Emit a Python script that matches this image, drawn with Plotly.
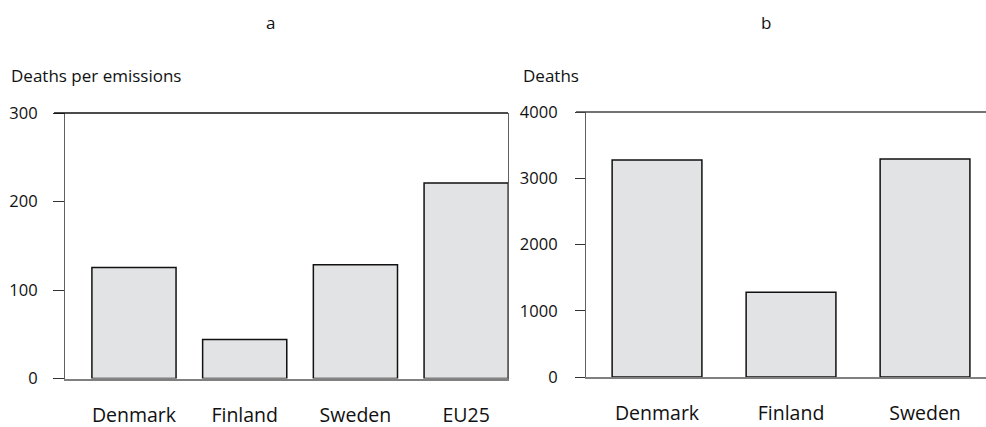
import plotly.graph_objects as go

# Panel a: deaths per emissions
countries_a = ["Denmark", "Finland", "Sweden", "EU25"]
deaths_per_emissions = [125.5, 44, 128.5, 221]

# Panel b: deaths
countries_b = ["Denmark", "Finland", "Sweden"]
deaths = [3275, 1278, 3290]

W, H = 986, 427
FONT = "Open Sans"
BAR_FILL = "#e2e3e5"
INK = "#111111"

fig = go.Figure()
fig.add_trace(go.Bar(
    x=countries_a, y=deaths_per_emissions, width=0.76,
    marker=dict(color=BAR_FILL, line=dict(color=INK, width=1.5)),
    xaxis="x", yaxis="y", hoverinfo="x+y",
))
fig.add_trace(go.Bar(
    x=countries_b, y=deaths, width=0.67,
    marker=dict(color=BAR_FILL, line=dict(color=INK, width=1.5)),
    xaxis="x2", yaxis="y2", hoverinfo="x+y",
))

ytick_font = dict(family=FONT, size=16.5, color=INK)
xtick_font = dict(family=FONT, size=19.5, color=INK)
label_font = dict(family=FONT, size=17, color=INK)

fig.update_layout(
    width=W, height=H,
    margin=dict(l=0, r=0, t=0, b=0, autoexpand=False),
    paper_bgcolor="white", plot_bgcolor="white",
    showlegend=False,
    font=dict(family=FONT, color=INK),
    xaxis=dict(
        domain=[65 / W, 508 / W], range=[-0.623, 3.378],
        showline=True, linecolor="#808080", linewidth=1.5,
        showgrid=False, ticks="", tickfont=xtick_font,
        ticklabelstandoff=18, fixedrange=True, automargin=False,
    ),
    yaxis=dict(
        domain=[1 - 378.5 / H, 1 - 113 / H], range=[0, 300],
        tickvals=[0, 100, 200, 300],
        showline=True, linecolor="#606060", linewidth=1.2, mirror=True,
        ticks="outside", ticklen=11, tickcolor="#333333", tickwidth=1.2,
        showgrid=False, zeroline=False, tickfont=ytick_font,
        ticklabelstandoff=12, fixedrange=True, automargin=False,
    ),
    xaxis2=dict(
        domain=[586 / W, 1.0], range=[-0.53, 2.455],
        showline=True, linecolor="#808080", linewidth=1.5,
        showgrid=False, ticks="", tickfont=xtick_font,
        ticklabelstandoff=18, fixedrange=True, anchor="y2", automargin=False,
    ),
    yaxis2=dict(
        domain=[1 - 377 / H, 1 - 112 / H], range=[0, 4000],
        tickvals=[0, 1000, 2000, 3000, 4000],
        showline=True, linecolor="#606060", linewidth=1.2,
        ticks="outside", ticklen=10, tickcolor="#333333", tickwidth=1.2,
        showgrid=False, zeroline=False, tickfont=ytick_font,
        ticklabelstandoff=14, fixedrange=True, anchor="x2", automargin=False,
    ),
    shapes=[
        # top frame line of panel a, running over the tick stub
        dict(type="line", xref="x domain", yref="y domain",
             x0=-11 / 443, x1=1, y0=1, y1=1,
             line=dict(color=INK, width=1.5)),
        # top frame line of panel b
        dict(type="line", xref="x2 domain", yref="y2 domain",
             x0=-10 / 400, x1=1, y0=1, y1=1,
             line=dict(color="#444444", width=1.5)),
    ],
    annotations=[
        dict(text="a", x=270 / W, y=1 - 23 / H, xref="paper", yref="paper",
             xanchor="center", yanchor="middle", showarrow=False,
             font=label_font),
        dict(text="b", x=766 / W, y=1 - 23 / H, xref="paper", yref="paper",
             xanchor="center", yanchor="middle", showarrow=False,
             font=label_font),
        dict(text="Deaths per emissions", x=9 / W, y=1 - 76 / H,
             xref="paper", yref="paper", xanchor="left", yanchor="middle",
             showarrow=False, font=label_font),
        dict(text="Deaths", x=521 / W, y=1 - 76 / H,
             xref="paper", yref="paper", xanchor="left", yanchor="middle",
             showarrow=False, font=label_font),
    ],
)

fig.write_html("out.html")
